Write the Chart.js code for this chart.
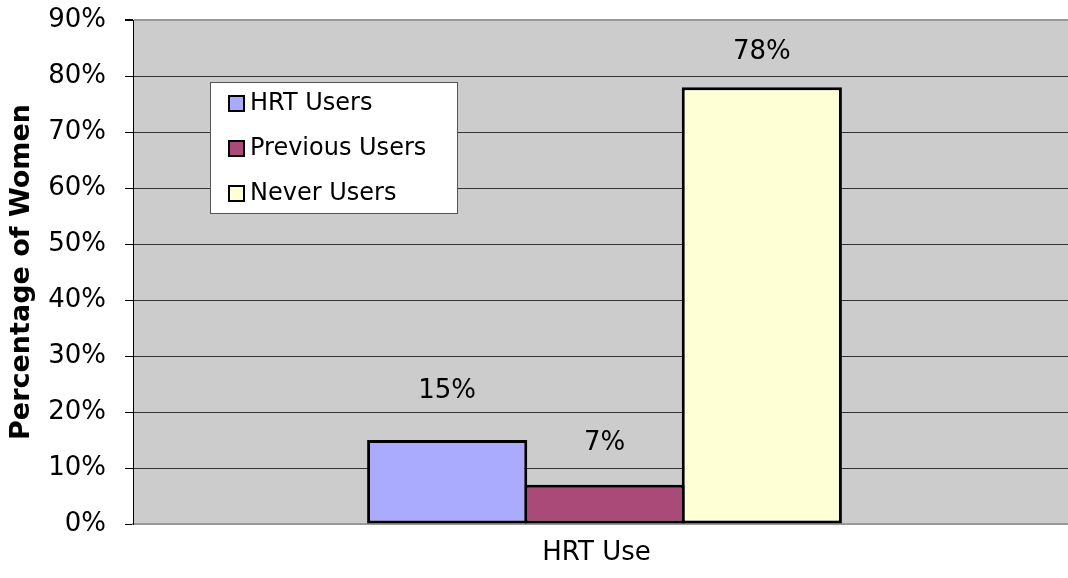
<!DOCTYPE html>
<html>
<head>
<meta charset="utf-8">
<script src="https://cdn.jsdelivr.net/npm/chart.js@4"></script>
<style>
  html, body { margin: 0; background: #fff; overflow: hidden; }
</style>
</head>
<body>
<!-- a área do gráfico continua um pouco além da borda direita da janela -->
<canvas id="myChart" width="1076" height="578"></canvas>
<script>
// dados do gráfico
const categories = ['HRT Use'];
const seriesNames = ['HRT Users', 'Previous Users', 'Never Users'];
const hrtUsers = [15];
const previousUsers = [7];
const neverUsers = [78];
const yTicks = [0, 10, 20, 30, 40, 50, 60, 70, 80, 90];

const fonte = 'DejaVu Sans, Verdana, sans-serif';

// fundo cinza da área do gráfico
const fundoPlugin = {
    id: 'fundo',
    beforeDraw(chart) {
        const a = chart.chartArea;
        const ctx = chart.ctx;
        ctx.save();
        ctx.fillStyle = '#cccccc';
        ctx.fillRect(a.left, a.top, a.right - a.left, a.bottom - a.top);
        ctx.restore();
    }
};

// rótulos de valor e legenda dentro da área
const rotulosPlugin = {
    id: 'rotulos',
    afterDatasetsDraw(chart) {
        const ctx = chart.ctx;
        ctx.save();
        ctx.font = '26px ' + fonte;
        ctx.fillStyle = '#000';
        ctx.textAlign = 'center';
        ctx.textBaseline = 'middle';
        chart.data.datasets.forEach(function (ds, i) {
            const meta = chart.getDatasetMeta(i);
            meta.data.forEach(function (bar, j) {
                ctx.fillText(ds.data[j] + '%', bar.x, bar.y - ds.labelLift);
            });
        });

        // legenda
        const a = chart.chartArea;
        const lx = a.left + 77, ly = a.top + 62, lw = 247, lh = 131;
        ctx.fillStyle = '#fff';
        ctx.fillRect(lx, ly, lw, lh);
        ctx.strokeStyle = '#555';
        ctx.lineWidth = 1;
        ctx.strokeRect(lx + 0.5, ly + 0.5, lw, lh);
        ctx.font = '24px ' + fonte;
        ctx.textAlign = 'left';
        chart.data.datasets.forEach(function (ds, i) {
            const cy = ly + 21 + i * 45;
            ctx.fillStyle = ds.backgroundColor;
            ctx.fillRect(lx + 19, cy - 7, 15, 15);
            ctx.strokeStyle = '#000';
            ctx.lineWidth = 2;
            ctx.strokeRect(lx + 19, cy - 7, 15, 15);
            ctx.fillStyle = '#000';
            ctx.fillText(ds.label, lx + 40, cy + 1);
        });
        ctx.restore();
    }
};

var ctx = document.getElementById('myChart').getContext('2d');
var chart = new Chart(ctx, {
    type: 'bar',
    data: {
        labels: categories,
        datasets: [{
            label: seriesNames[0],
            data: hrtUsers,
            backgroundColor: '#aaaaff',
            labelLift: 49
        }, {
            label: seriesNames[1],
            data: previousUsers,
            backgroundColor: '#aa4a78',
            labelLift: 42
        }, {
            label: seriesNames[2],
            data: neverUsers,
            backgroundColor: '#ffffd5',
            labelLift: 35
        }]
    },
    options: {
        responsive: false,
        animation: false,
        devicePixelRatio: 1,
        layout: { padding: { top: 20, right: 0, bottom: 0, left: 0 } },
        datasets: {
            bar: {
                borderColor: '#000',
                borderWidth: 3,
                borderSkipped: false,
                categoryPercentage: 0.5005,
                barPercentage: 1.018
            }
        },
        plugins: {
            legend: { display: false },
            tooltip: { enabled: false }
        },
        scales: {
            x: {
                afterFit(scale) {
                    scale.height = 54;
                    scale.paddingLeft = 0;
                    scale.paddingRight = 0;
                },
                grid: { display: false, drawTicks: false },
                border: { display: true, color: '#999', width: 2 },
                ticks: {
                    color: '#000',
                    padding: 14,
                    labelOffset: -8,
                    font: { family: fonte, size: 26 }
                }
            },
            y: {
                min: 0,
                max: 90,
                afterBuildTicks(scale) {
                    scale.ticks = yTicks.map(v => ({ value: v }));
                },
                afterFit(scale) {
                    scale.width = 133;
                    scale.paddingTop = 0;
                    scale.paddingBottom = 0;
                },
                grid: {
                    color: c => (c.tick && (c.tick.value === 90 || c.tick.value === 0)) ? '#999' : '#333',
                    lineWidth: c => (c.tick && c.tick.value === 90) ? 2 : 1,
                    tickColor: '#000',
                    tickLength: 8
                },
                border: { display: true, color: '#000', width: 1 },
                ticks: {
                    color: '#000',
                    padding: 19,
                    font: { family: fonte, size: 26 },
                    callback: v => v + '%'
                },
                title: {
                    display: true,
                    text: 'Percentage of Women',
                    color: '#000',
                    padding: { top: 6, bottom: 10 },
                    font: { family: fonte, size: 27, weight: 'bold' }
                }
            }
        }
    },
    plugins: [fundoPlugin, rotulosPlugin]
});
</script>
</body>
</html>
